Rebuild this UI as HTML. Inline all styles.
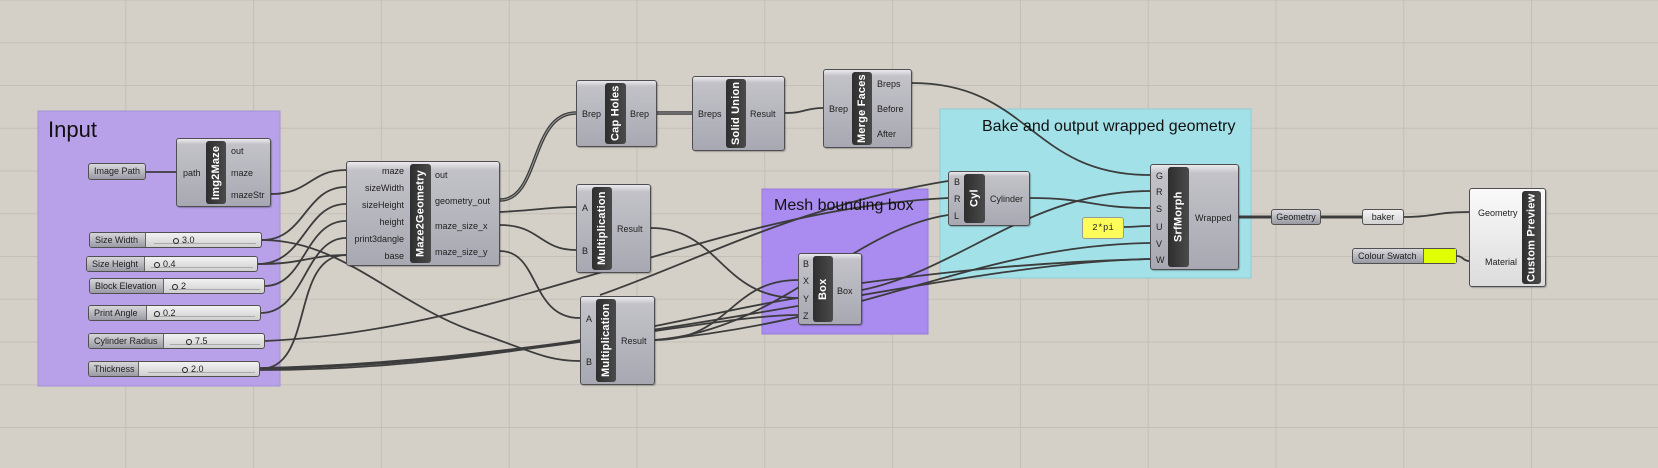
<!DOCTYPE html>
<html><head><meta charset="utf-8">
<style>
*{margin:0;padding:0;box-sizing:border-box}
body{width:1658px;height:468px;overflow:hidden;background:#d4d0c8;font-family:"Liberation Sans",sans-serif;position:relative}
svg{position:absolute;left:0;top:0}
.c{position:absolute;border:1px solid #4e4e52;border-radius:3px;background:linear-gradient(#eaeaee 0,#c2c2c8 8%,#a8a8b2 100%);box-shadow:1px 1px 1px rgba(0,0,0,.25)}
.bar{position:absolute;top:2px;bottom:2px;background:linear-gradient(90deg,#4a4a4a,#2e2e2e);border-radius:3px;color:#fff;font-weight:bold;font-size:11px;writing-mode:vertical-rl;transform:rotate(180deg);display:flex;align-items:center;justify-content:center;white-space:nowrap;letter-spacing:.2px}
.l{position:absolute;font-size:9px;line-height:10px;color:#1e1e1e;white-space:nowrap}
.r{text-align:right}
.pill{position:absolute;border:1px solid #505050;border-radius:3px;background:linear-gradient(#d8d8dc,#9a9aa4);font-size:9px;line-height:15px;color:#1e1e1e;text-align:center;white-space:nowrap}
.sl{position:absolute;height:16px;border:1px solid #505050;border-radius:3px;background:linear-gradient(#f2f2f2,#cfcfcf);font-size:9px;line-height:14px;color:#222;white-space:nowrap}
.sl .k{position:absolute;left:0;top:0;bottom:0;background:linear-gradient(#d6d6da,#9a9aa4);border-right:1px solid #666;padding-left:5px;border-radius:2px 0 0 2px}
.sl .v{position:absolute;top:0}
.sl .v:before{content:"";display:inline-block;width:4px;height:4px;border:1.5px solid #222;border-radius:50%;margin-right:3px;vertical-align:-1px}
.sl .t{position:absolute;top:10px;height:3px;border-top:1px solid #aaa}
.gt{position:absolute;color:#111;white-space:nowrap}
</style></head><body>
<svg width="1658" height="468">
<defs>
<pattern id="g" x="0" y="0" width="127.8" height="42.75" patternUnits="userSpaceOnUse" patternTransform="translate(-1.5,0.5)">
<path d="M127.3 0V42.75M0 42.25H127.8" stroke="#c3bfb7" stroke-width="1" fill="none"/>
</pattern>
</defs>
<rect width="1658" height="468" fill="#d4d0c8"/>
<rect width="1658" height="468" fill="url(#g)"/>
<rect x="38" y="111" width="242" height="275" fill="#b8a1e8" stroke="#a58fd6"/>
<rect x="762" y="189" width="166" height="145" fill="#aa8cf0" stroke="#957ad8"/>
<rect x="940" y="109" width="311" height="169" fill="#a3e1e8" stroke="#8fcbd2"/>
<g fill="none" stroke="#3c3c3c" stroke-width="1.8">
<path d="M146 172C160 172 160 172 176 172"/>
<path d="M271 194C310 194 310 170 346 170"/>
<path d="M262 240C305 240 305 187 346 187"/>
<path d="M262 240C340 240 390 300 470 330C530 350 545 361 580 361"/>
<path d="M258 264C305 264 305 204 346 204"/>
<path d="M258 264C305 264 310 255 346 255"/>
<path d="M265 286C305 286 305 221 346 221"/>
<path d="M261 313C305 313 305 238 346 238"/>
<path d="M260 369C315 369 290 255 346 255"/>
<path d="M265 341C510 330 710 210 948 198"/>
<path d="M260 369C510 365 710 315 798 315"/>
<path d="M260 368C620 360 950 262 1150 259"/>
<path d="M260 370C510 370 710 310 798 298"/>
<path d="M500 200C540 200 530 113 576 113" stroke-width="3.5"/>
<path d="M500 200C540 200 530 113 576 113" stroke="#9a9a9a" stroke-width="1"/>
<path d="M500 212C540 210 550 207 576 207"/>
<path d="M500 225C540 225 540 250 576 250"/>
<path d="M500 251C540 251 530 318 580 318"/>
<path d="M657 113C675 113 675 113 692 113" stroke-width="3.5"/>
<path d="M657 113C675 113 675 113 692 113" stroke="#9a9a9a" stroke-width="1"/>
<path d="M785 113C805 113 805 108 823 108"/>
<path d="M912 83C1030 83 1030 175 1150 175"/>
<path d="M651 228C720 228 720 298 798 298"/>
<path d="M655 340C730 340 730 280 798 280"/>
<path d="M655 340C780 330 850 230 948 215"/>
<path d="M655 340C870 320 980 245 1150 243"/>
<path d="M600 295C700 260 800 205 948 181"/>
<path d="M862 290C960 270 1030 191 1150 191"/>
<path d="M862 283C960 270 1040 262 1150 259"/>
<path d="M1030 198C1090 198 1090 208 1150 208"/>
<path d="M1124 227C1137 227 1137 226 1150 226"/>
<path d="M1239 217C1255 217 1255 217 1271 217" stroke-width="3"/>
<path d="M1321 217C1340 217 1340 217 1362 217" stroke-width="3"/>
<path d="M1404 217C1435 217 1435 212 1469 212"/>
<path d="M1457 256C1463 256 1463 261 1469 261"/>
</g>
</svg>

<div class="gt" style="left:48px;top:117px;font-size:22px">Input</div>
<div class="gt" style="left:774px;top:197px;font-size:16px">Mesh bounding box</div>
<div class="gt" style="left:982px;top:118px;font-size:16px">Bake and output wrapped geometry</div>

<!-- Img2Maze -->
<div class="c" style="left:176px;top:138px;width:95px;height:69px">
<div class="bar" style="left:29px;width:20px">Img2Maze</div>
<div class="l" style="left:6px;top:29px">path</div>
<div class="l" style="left:54px;top:7px">out</div>
<div class="l" style="left:54px;top:29px">maze</div>
<div class="l" style="left:54px;top:51px">mazeStr</div>
</div>
<!-- Maze2Geometry -->
<div class="c" style="left:346px;top:161px;width:154px;height:105px">
<div class="bar" style="left:63px;width:21px">Maze2Geometry</div>
<div class="l r" style="right:95px;top:4px">maze</div>
<div class="l r" style="right:95px;top:21px">sizeWidth</div>
<div class="l r" style="right:95px;top:38px">sizeHeight</div>
<div class="l r" style="right:95px;top:55px">height</div>
<div class="l r" style="right:95px;top:72px">print3dangle</div>
<div class="l r" style="right:95px;top:89px">base</div>
<div class="l" style="left:88px;top:8px">out</div>
<div class="l" style="left:88px;top:34px">geometry_out</div>
<div class="l" style="left:88px;top:59px">maze_size_x</div>
<div class="l" style="left:88px;top:85px">maze_size_y</div>
</div>
<!-- Cap Holes -->
<div class="c" style="left:576px;top:80px;width:81px;height:67px">
<div class="bar" style="left:28px;width:21px">Cap Holes</div>
<div class="l" style="left:5px;top:28px">Brep</div>
<div class="l" style="left:53px;top:28px">Brep</div>
</div>
<!-- Solid Union -->
<div class="c" style="left:692px;top:76px;width:93px;height:75px">
<div class="bar" style="left:33px;width:20px">Solid Union</div>
<div class="l" style="left:5px;top:32px">Breps</div>
<div class="l" style="left:57px;top:32px">Result</div>
</div>
<!-- Merge Faces -->
<div class="c" style="left:823px;top:69px;width:89px;height:79px">
<div class="bar" style="left:28px;width:20px">Merge Faces</div>
<div class="l" style="left:5px;top:34px">Brep</div>
<div class="l" style="left:53px;top:9px">Breps</div>
<div class="l" style="left:53px;top:34px">Before</div>
<div class="l" style="left:53px;top:59px">After</div>
</div>
<!-- Mult1 -->
<div class="c" style="left:576px;top:184px;width:75px;height:89px">
<div class="bar" style="left:15px;width:20px">Multiplication</div>
<div class="l" style="left:5px;top:18px">A</div>
<div class="l" style="left:5px;top:61px">B</div>
<div class="l" style="left:40px;top:39px">Result</div>
</div>
<!-- Mult2 -->
<div class="c" style="left:580px;top:296px;width:75px;height:89px">
<div class="bar" style="left:15px;width:20px">Multiplication</div>
<div class="l" style="left:5px;top:17px">A</div>
<div class="l" style="left:5px;top:60px">B</div>
<div class="l" style="left:40px;top:39px">Result</div>
</div>
<!-- Box -->
<div class="c" style="left:798px;top:253px;width:64px;height:72px">
<div class="bar" style="left:14px;width:20px">Box</div>
<div class="l" style="left:4px;top:5px">B</div>
<div class="l" style="left:4px;top:22px">X</div>
<div class="l" style="left:4px;top:40px">Y</div>
<div class="l" style="left:4px;top:57px">Z</div>
<div class="l" style="left:38px;top:32px">Box</div>
</div>
<!-- Cyl -->
<div class="c" style="left:948px;top:171px;width:82px;height:55px">
<div class="bar" style="left:15px;width:21px">Cyl</div>
<div class="l" style="left:5px;top:5px">B</div>
<div class="l" style="left:5px;top:22px">R</div>
<div class="l" style="left:5px;top:39px">L</div>
<div class="l" style="left:41px;top:22px">Cylinder</div>
</div>
<!-- SrfMorph -->
<div class="c" style="left:1150px;top:164px;width:89px;height:106px">
<div class="bar" style="left:17px;width:21px">SrfMorph</div>
<div class="l" style="left:5px;top:6px">G</div>
<div class="l" style="left:5px;top:22px">R</div>
<div class="l" style="left:5px;top:39px">S</div>
<div class="l" style="left:5px;top:57px">U</div>
<div class="l" style="left:5px;top:74px">V</div>
<div class="l" style="left:5px;top:90px">W</div>
<div class="l" style="left:44px;top:48px">Wrapped</div>
</div>
<!-- Custom Preview -->
<div class="c" style="left:1469px;top:188px;width:77px;height:99px;background:linear-gradient(#fafafa,#dcdcdc)">
<div class="bar" style="left:52px;width:19px">Custom Preview</div>
<div class="l" style="left:8px;top:19px">Geometry</div>
<div class="l" style="left:15px;top:68px">Material</div>
</div>

<div class="pill" style="left:88px;top:163px;width:58px;height:17px">Image Path</div>
<div class="pill" style="left:1271px;top:209px;width:50px;height:16px;line-height:14px">Geometry</div>
<div class="pill" style="left:1362px;top:209px;width:42px;height:16px;line-height:14px;background:linear-gradient(#f4f4f4,#d2d2d2)">baker</div>
<div class="pill" style="left:1082px;top:217px;width:42px;height:22px;line-height:20px;background:#fcfc5a;border-color:#999;font-family:'Liberation Mono',monospace;font-size:9px">2*pi</div>
<div class="pill" style="left:1352px;top:248px;width:105px;height:16px;line-height:14px;text-align:left;padding-left:5px">Colour Swatch<span style="position:absolute;left:70px;top:0;width:33px;height:14px;background:#e0ff00;border-left:1px solid #666"></span></div>

<div class="sl" style="left:89px;top:232px;width:173px"><div class="k" style="width:56px">Size Width</div><div class="t" style="left:64px;width:102px"></div><div class="v" style="left:83px">3.0</div></div>
<div class="sl" style="left:86px;top:256px;width:172px"><div class="k" style="width:58px">Size Height</div><div class="t" style="left:64px;width:102px"></div><div class="v" style="left:67px">0.4</div></div>
<div class="sl" style="left:89px;top:278px;width:176px"><div class="k" style="width:74px">Block Elevation</div><div class="t" style="left:79px;width:91px"></div><div class="v" style="left:82px">2</div></div>
<div class="sl" style="left:88px;top:305px;width:173px"><div class="k" style="width:58px">Print Angle</div><div class="t" style="left:64px;width:102px"></div><div class="v" style="left:65px">0.2</div></div>
<div class="sl" style="left:88px;top:333px;width:177px"><div class="k" style="width:75px">Cylinder Radius</div><div class="t" style="left:81px;width:90px"></div><div class="v" style="left:97px">7.5</div></div>
<div class="sl" style="left:88px;top:361px;width:172px"><div class="k" style="width:50px">Thickness</div><div class="t" style="left:59px;width:107px"></div><div class="v" style="left:93px">2.0</div></div>
</body></html>
